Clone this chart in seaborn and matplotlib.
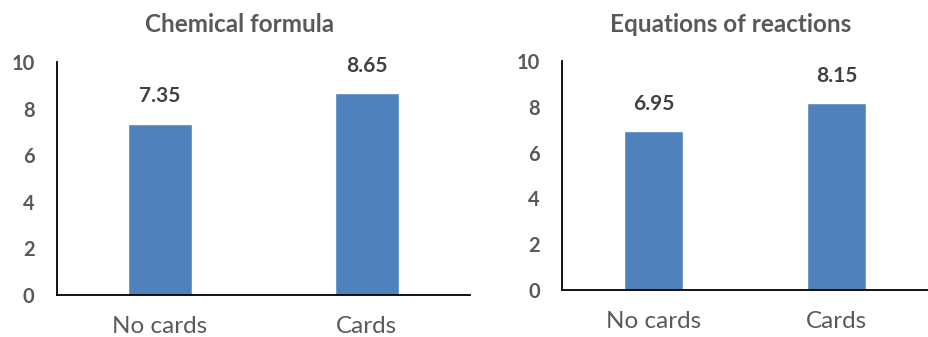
import pandas as pd
import matplotlib
matplotlib.use("Agg")
import matplotlib.pyplot as plt
import seaborn as sns

# Values
groups = ["No cards", "Cards"]
formula_scores = [7.35, 8.65]
reaction_scores = [6.95, 8.15]
titles = ["Chemical formula", "Equations of reactions"]
y_ticks = [0, 2, 4, 6, 8, 10]

sns.set_style("white")
plt.rcParams["font.family"] = ["Lato", "DejaVu Sans"]

bar_color = "#4F81BD"
grey = "#595959"

fig = plt.figure(figsize=(9.29, 3.37), dpi=100)
ax1 = fig.add_axes([0.061, 0.125, 0.445, 0.691])
ax2 = fig.add_axes([0.605, 0.139, 0.394, 0.680])

panels = [(ax1, formula_scores, 0.31, 240), (ax2, reaction_scores, 0.32, 731)]
for (ax, scores, width, title_x), title in zip(panels, titles):
    df = pd.DataFrame({"group": groups, "score": scores})
    sns.barplot(data=df, x="group", y="score", color=bar_color, width=width,
                saturation=1, ax=ax)
    ax.set_xlim(-0.5, 1.5)
    ax.set_ylim(0, 10)
    ax.set_yticks(y_ticks)
    ax.set_xlabel("")
    ax.set_ylabel("")
    ax.tick_params(axis="y", length=0, pad=16, labelsize=14.5, labelcolor=grey)
    ax.tick_params(axis="x", length=0, pad=15, labelsize=17.5, labelcolor=grey)
    for lbl in ax.get_yticklabels():
        lbl.set_fontweight("bold")
    for s in ["top", "right"]:
        ax.spines[s].set_visible(False)
    for s in ["left", "bottom"]:
        ax.spines[s].set_color("black")
        ax.spines[s].set_linewidth(1.3)
    for bar, v in zip(ax.patches, scores):
        ax.text(bar.get_x() + bar.get_width() / 2, v + 0.75, f"{v:.2f}",
                ha="center", va="bottom", fontsize=15, fontweight="bold",
                color="#404040")
    fig.text(title_x / 929, 1 - 24 / 337, title, ha="center", va="center",
             fontsize=17.5, fontweight="bold", color=grey)

fig.savefig("out.png", dpi=100)
